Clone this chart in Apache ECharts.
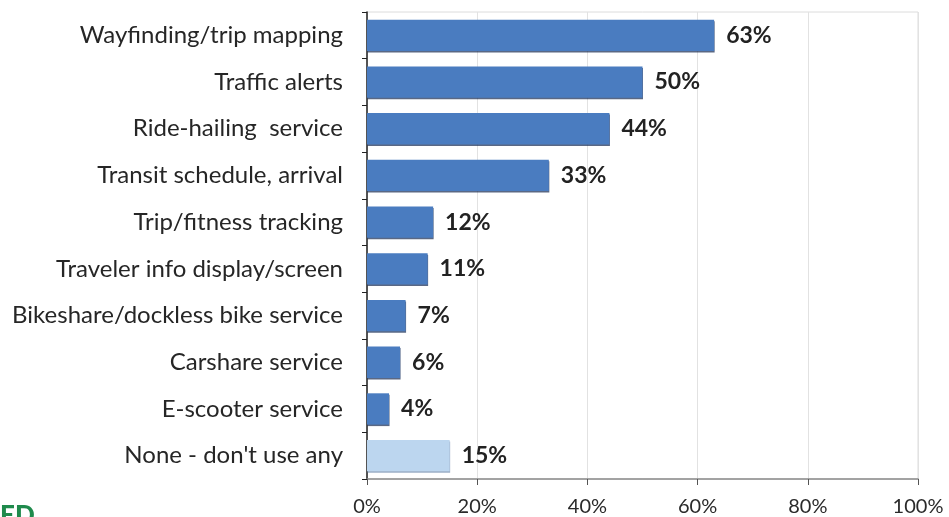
<!DOCTYPE html>
<html><head><meta charset="utf-8">
<script src="https://cdn.jsdelivr.net/npm/echarts@6/dist/echarts.min.js"></script>
<style>html,body{margin:0;padding:0;background:#fff}#c{width:949px;height:517px}</style>
</head><body><div id="c"></div>
<script>
var categories = ["Wayfinding/trip mapping","Traffic alerts","Ride-hailing  service","Transit schedule, arrival","Trip/fitness tracking","Traveler info display/screen","Bikeshare/dockless bike service","Carshare service","E-scooter service","None - don't use any"];
var values = [63, 50, 44, 33, 12, 11, 7, 6, 4, 15];
var xTicks = [0, 20, 40, 60, 80, 100];

var chart = echarts.init(document.getElementById('c'), null, {renderer:'canvas'});
var data = values.map(function(v, i){
  var last = i === values.length - 1;
  return {
    value: v,
    itemStyle: {
      color: last ? '#bcd6ef' : '#4a7cc0',
      shadowColor: last ? 'rgba(90,120,160,0.6)' : 'rgba(20,40,80,0.7)',
      shadowOffsetY: 1.5, shadowOffsetX: 0.5, shadowBlur: 0
    }
  };
});
chart.setOption({
  animation: false,
  grid: {left: 367, right: 31, top: 12, bottom: 37, show: true, borderColor: '#dcdcdc', borderWidth: 1},
  xAxis: {
    type: 'value', min: xTicks[0], max: xTicks[xTicks.length-1], interval: 20,
    axisLine: {show: true, lineStyle: {color: '#8a8a8a', width: 1.5}},
    axisTick: {show: true, length: 6, lineStyle: {color: '#555'}},
    splitLine: {show: true, lineStyle: {color: '#e2e2e2'}},
    axisLabel: {formatter: '{value}%', fontFamily: 'Lato, "Open Sans", sans-serif', fontSize: 20, color: '#2a2a2a', margin: 18}
  },
  yAxis: {
    type: 'category', data: categories, inverse: true,
    axisLine: {show: true, lineStyle: {color: '#222', width: 1.5}},
    axisTick: {show: true, length: 5, lineStyle: {color: '#222'}},
    axisLabel: {fontFamily: 'Lato, "Open Sans", sans-serif', fontSize: 24, color: '#262626', margin: 24}
  },
  series: [{
    type: 'bar', data: data, barCategoryGap: '33%',
    label: {show: true, position: 'right', distance: 12, formatter: '{c}%',
      fontFamily: 'Lato, "Open Sans", sans-serif', fontWeight: 'bold', fontSize: 23, color: '#222'}
  }],
  graphic: [{type: 'text', left: 0, top: 503, style: {text: 'ED', fontFamily: 'Lato, sans-serif', fontWeight: 900, fontSize: 26, fill: '#1f8a4c'}}]
});
</script></body></html>
